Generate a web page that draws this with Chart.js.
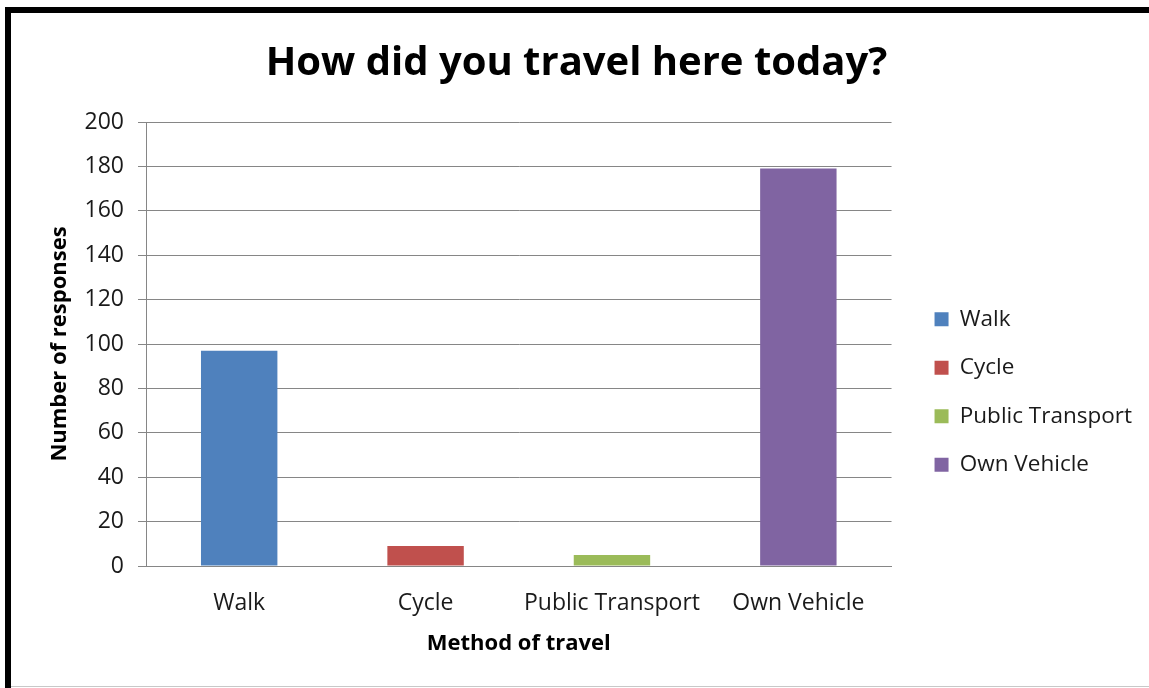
<!DOCTYPE html>
<html>
<head>
<meta charset="utf-8">
<script src="https://cdn.jsdelivr.net/npm/chart.js@4"></script>
<style>
  html, body { margin: 0; padding: 0; background: #fff; }
  #frame { position: absolute; left: 0; top: 0; width: 1149px; height: 688px; }
  #frame canvas { position: absolute; left: 0; top: 0; }
  .edge { position: absolute; background: #000; }
</style>
</head>
<body>
<div id="frame">
  <canvas id="travelChart" width="1149" height="688"></canvas>
  <div class="edge" style="left:5px; top:7px; width:1144px; height:6px;"></div>
  <div class="edge" style="left:5px; top:7px; width:6px; height:681px;"></div>
  <div class="edge" style="left:11px; top:686px; width:1138px; height:1px; background:#c8c8c8;"></div>
</div>
<script>
// data
const categories = ['Walk', 'Cycle', 'Public Transport', 'Own Vehicle'];
const responses = [97, 9, 5, 179];
const barColors = ['#4f81bd', '#c0504d', '#9bbb59', '#8064a2'];
const yMin = 0;
const yMax = 200;
const yStep = 20;

const gridGrey = '#868686';
const textColour = '#1a1a1a';

new Chart(document.getElementById('travelChart').getContext('2d'), {
    type: 'bar',
    data: {
        labels: categories,
        datasets: [{
            label: 'Number of responses',
            data: responses,
            backgroundColor: barColors,
            borderWidth: 0,
            categoryPercentage: 1,
            barPercentage: 0.41
        }]
    },
    options: {
        responsive: false,
        animation: false,
        layout: {
            padding: { left: 11, top: 13, right: 7, bottom: 20 }
        },
        plugins: {
            title: {
                display: true,
                text: 'How did you travel here today?',
                color: '#000',
                font: { family: 'Open Sans', size: 40, weight: 'bold' },
                padding: { top: 27, bottom: 34 }
            },
            legend: {
                position: 'right',
                align: 'start',
                maxWidth: 260,
                onClick: null,
                // blank title just pushes the items down to where the reference has them
                title: {
                    display: true,
                    text: ' ',
                    font: { size: 12 },
                    padding: { top: 254.6, bottom: 0 }
                },
                labels: {
                    color: textColour,
                    font: { family: 'Open Sans', size: 22.5 },
                    boxWidth: 14,
                    boxHeight: 14,
                    padding: 26,
                    generateLabels: function (chart) {
                        return chart.data.labels.map(function (label, i) {
                            return {
                                text: label,
                                fillStyle: barColors[i],
                                strokeStyle: barColors[i],
                                fontColor: textColour,
                                lineWidth: 0,
                                hidden: false,
                                index: i
                            };
                        });
                    }
                }
            },
            tooltip: { enabled: false }
        },
        scales: {
            x: {
                afterFit: function (scale) { scale.height = 102; },
                grid: { display: false },
                border: { color: gridGrey, width: 1 },
                ticks: {
                    color: textColour,
                    font: { family: 'Open Sans', size: 23 },
                    padding: 16
                },
                title: {
                    display: true,
                    text: 'Method of travel',
                    color: '#000',
                    font: { family: 'Open Sans', size: 22, weight: 'bold' },
                    padding: { top: 0, bottom: 11 }
                }
            },
            y: {
                min: yMin,
                max: yMax,
                afterFit: function (scale) { scale.width = 135; },
                grid: {
                    color: gridGrey,
                    lineWidth: 1,
                    tickLength: 8,
                    tickColor: gridGrey
                },
                border: { color: gridGrey, width: 1 },
                ticks: {
                    stepSize: yStep,
                    color: textColour,
                    font: { family: 'Open Sans', size: 23 },
                    padding: 14
                },
                title: {
                    display: true,
                    text: 'Number of responses',
                    color: '#000',
                    font: { family: 'Open Sans', size: 22, weight: 'bold' },
                    padding: { top: 36 }
                }
            },
            // blank spacer between the plot and the legend
            gap: {
                type: 'linear',
                position: 'right',
                grid: { display: false, drawTicks: false },
                border: { display: false },
                ticks: { display: false },
                afterFit: function (scale) { scale.width = 17; }
            }
        }
    }
});
</script>
</body>
</html>
